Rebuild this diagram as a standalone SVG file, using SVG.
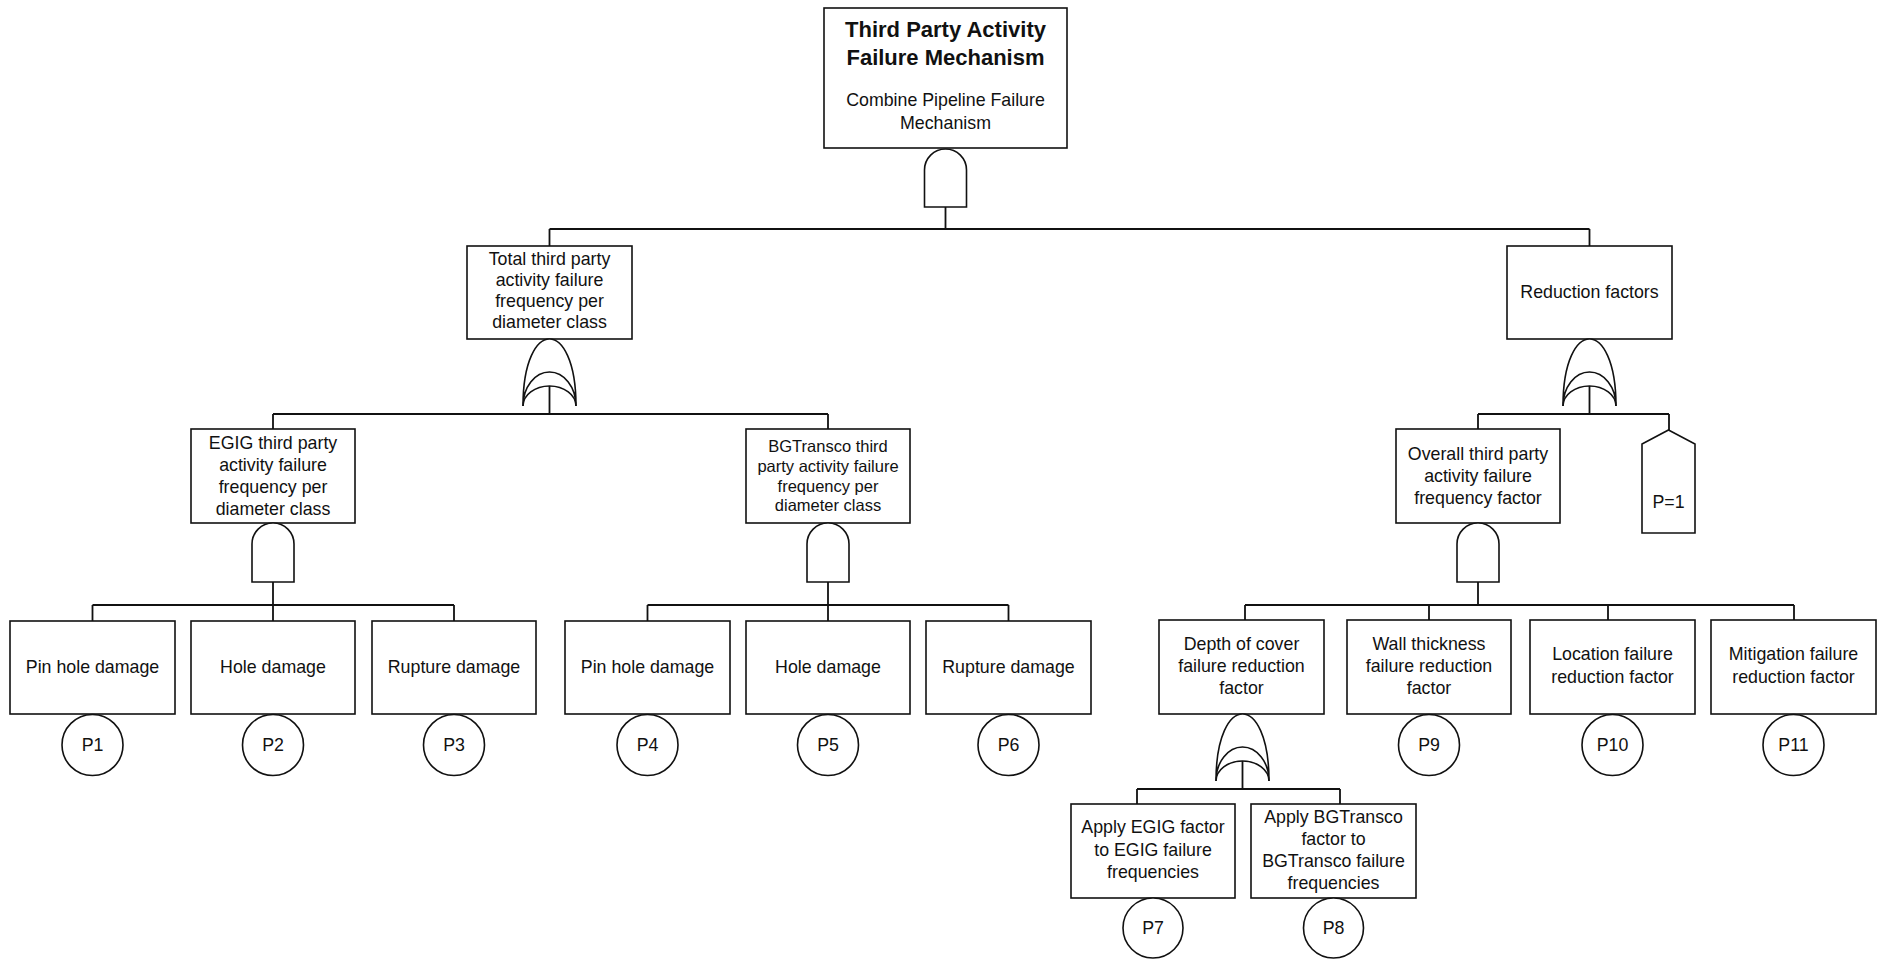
<svg xmlns="http://www.w3.org/2000/svg" width="1889" height="960" viewBox="0 0 1889 960">
<style>
.box{fill:#fff;stroke:#111;stroke-width:1.6}
.gate{fill:#fff;stroke:#111;stroke-width:1.6}
.arc{fill:none;stroke:#111;stroke-width:1.6}
.ln{fill:none;stroke:#111;stroke-width:1.8}
text{font-family:"Liberation Sans",Arial,sans-serif;font-size:17.8px;text-anchor:middle;fill:#111}
.b{font-weight:bold;font-size:22px}
.n{font-size:16.5px}
</style>
<rect width="1889" height="960" fill="#fff"/>
<g id="connectors">
<path class="ln" d="M945.5,207V229M549.5,229H1589.5M549.5,229V246M1589.5,229V246"/>
<path class="ln" d="M549.5,386V414M273,414H828M273,414V429M828,414V429"/>
<path class="ln" d="M273,582V605M92.5,605H454M92.5,605V621M273,605V621M454,605V621"/>
<path class="ln" d="M828,582V605M647.5,605H1008.5M647.5,605V621M828,605V621M1008.5,605V621"/>
<path class="ln" d="M1589.5,386V414M1478,414H1669M1478,414V429M1669,414V430"/>
<path class="ln" d="M1478,582V605M1245,605H1794M1245,605V620M1429,605V620M1608,605V620M1794,605V620"/>
<path class="ln" d="M1242.5,761V789M1137,789H1340M1137,789V804M1340,789V804"/>
</g>
<g id="top">
<rect class="box" x="824" y="8" width="243" height="140"/>
<text class="b" x="945.5" y="37">Third Party Activity</text>
<text class="b" x="945.5" y="65">Failure Mechanism</text>
<text x="945.5" y="106">Combine Pipeline Failure</text>
<text x="945.5" y="129">Mechanism</text>
<path class="gate" d="M924.5,207V170A21,21 0 0 1 966.5,170V207Z"/>
</g>
<g id="total">
<rect class="box" x="467" y="246" width="165" height="93"/>
<text x="549.5" y="265">Total third party</text>
<text x="549.5" y="286">activity failure</text>
<text x="549.5" y="307">frequency per</text>
<text x="549.5" y="328">diameter class</text>
<path class="gate" d="M523,406C523,361 536.5,339 549.5,339C562.5,339 576,361 576,406A26.5,34 0 0 0 523,406Z"/>
<path class="arc" d="M523,406A26.5,20 0 0 1 576,406"/>
</g>
<g id="egig">
<rect class="box" x="191" y="429" width="164" height="94"/>
<text x="273" y="449">EGIG third party</text>
<text x="273" y="471">activity failure</text>
<text x="273" y="493">frequency per</text>
<text x="273" y="515">diameter class</text>
<path class="gate" d="M252,582V544A21,21 0 0 1 294,544V582Z"/>
</g>
<g id="bgtransco">
<rect class="box" x="746" y="429" width="164" height="94"/>
<text class="n" x="828" y="452">BGTransco third</text>
<text class="n" x="828" y="472">party activity failure</text>
<text class="n" x="828" y="492">frequency per</text>
<text class="n" x="828" y="511">diameter class</text>
<path class="gate" d="M807,582V544A21,21 0 0 1 849,544V582Z"/>
</g>
<g id="leaf1"><rect class="box" x="10" y="621" width="165" height="93"/><text x="92.5" y="673">Pin hole damage</text><circle class="box" cx="92.5" cy="745" r="30.5"/><text x="92.5" y="751">P1</text></g>
<g id="leaf2"><rect class="box" x="191" y="621" width="164" height="93"/><text x="273" y="673">Hole damage</text><circle class="box" cx="273" cy="745" r="30.5"/><text x="273" y="751">P2</text></g>
<g id="leaf3"><rect class="box" x="372" y="621" width="164" height="93"/><text x="454" y="673">Rupture damage</text><circle class="box" cx="454" cy="745" r="30.5"/><text x="454" y="751">P3</text></g>
<g id="leaf4"><rect class="box" x="565" y="621" width="165" height="93"/><text x="647.5" y="673">Pin hole damage</text><circle class="box" cx="647.5" cy="745" r="30.5"/><text x="647.5" y="751">P4</text></g>
<g id="leaf5"><rect class="box" x="746" y="621" width="164" height="93"/><text x="828" y="673">Hole damage</text><circle class="box" cx="828" cy="745" r="30.5"/><text x="828" y="751">P5</text></g>
<g id="leaf6"><rect class="box" x="926" y="621" width="165" height="93"/><text x="1008.5" y="673">Rupture damage</text><circle class="box" cx="1008.5" cy="745" r="30.5"/><text x="1008.5" y="751">P6</text></g>
<g id="reduction">
<rect class="box" x="1507" y="246" width="165" height="93"/>
<text x="1589.5" y="298">Reduction factors</text>
<path class="gate" d="M1563,406C1563,361 1576.5,339 1589.5,339C1602.5,339 1616,361 1616,406A26.5,34 0 0 0 1563,406Z"/>
<path class="arc" d="M1563,406A26.5,20 0 0 1 1616,406"/>
</g>
<g id="overall">
<rect class="box" x="1396" y="429" width="164" height="94"/>
<text x="1478" y="460">Overall third party</text>
<text x="1478" y="482">activity failure</text>
<text x="1478" y="504">frequency factor</text>
<path class="gate" d="M1457,582V544A21,21 0 0 1 1499,544V582Z"/>
</g>
<g id="p1house">
<polygon class="box" points="1668.5,430 1695,444 1695,533 1642,533 1642,444"/>
<text x="1668.5" y="508">P=1</text>
</g>
<g id="depth">
<rect class="box" x="1159" y="620" width="165" height="94"/>
<text x="1241.5" y="650">Depth of cover</text>
<text x="1241.5" y="672">failure reduction</text>
<text x="1241.5" y="694">factor</text>
<path class="gate" d="M1216,781C1216,736 1229.5,714 1242.5,714C1255.5,714 1269,736 1269,781A26.5,34 0 0 0 1216,781Z"/>
<path class="arc" d="M1216,781A26.5,20 0 0 1 1269,781"/>
</g>
<g id="wall"><rect class="box" x="1347" y="620" width="164" height="94"/><text x="1429" y="650">Wall thickness</text><text x="1429" y="672">failure reduction</text><text x="1429" y="694">factor</text><circle class="box" cx="1429" cy="745" r="30.5"/><text x="1429" y="751">P9</text></g>
<g id="location"><rect class="box" x="1530" y="620" width="165" height="94"/><text x="1612.5" y="660">Location failure</text><text x="1612.5" y="683">reduction factor</text><circle class="box" cx="1612.5" cy="745" r="30.5"/><text x="1612.5" y="751">P10</text></g>
<g id="mitigation"><rect class="box" x="1711" y="620" width="165" height="94"/><text x="1793.5" y="660">Mitigation failure</text><text x="1793.5" y="683">reduction factor</text><circle class="box" cx="1793.5" cy="745" r="30.5"/><text x="1793.5" y="751">P11</text></g>
<g id="applyegig"><rect class="box" x="1071" y="804" width="164" height="94"/><text x="1153" y="833">Apply EGIG factor</text><text x="1153" y="856">to EGIG failure</text><text x="1153" y="878">frequencies</text><circle class="box" cx="1153" cy="928" r="30"/><text x="1153" y="934">P7</text></g>
<g id="applybg"><rect class="box" x="1251" y="804" width="165" height="94"/><text x="1333.5" y="823">Apply BGTransco</text><text x="1333.5" y="845">factor to</text><text x="1333.5" y="867">BGTransco failure</text><text x="1333.5" y="889">frequencies</text><circle class="box" cx="1333.5" cy="928" r="30"/><text x="1333.5" y="934">P8</text></g>
</svg>
